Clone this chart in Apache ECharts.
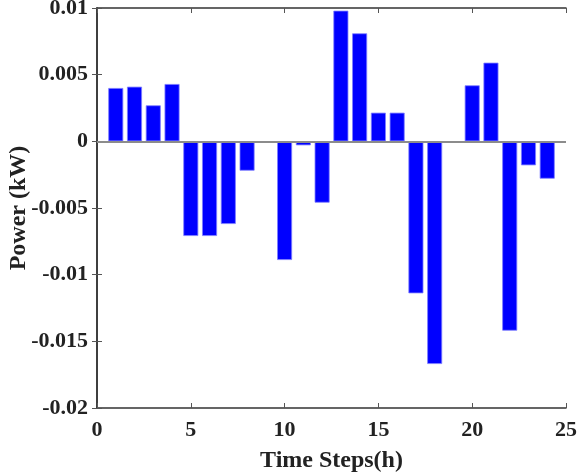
<!DOCTYPE html>
<html><head><meta charset="utf-8">
<script src="https://cdn.jsdelivr.net/npm/echarts@6/dist/echarts.min.js"></script>
<style>html,body{margin:0;padding:0;background:#fff}#c{width:578px;height:473px}</style>
</head><body><div id="c"></div>
<script>
const hours = [1,2,3,4,5,6,7,8,9,10,11,12,13,14,15,16,17,18,19,20,21,22,23,24];
const power = [0.0040,0.0041,0.0027,0.0043,-0.0071,-0.0071,-0.0062,-0.0022,-0.00003,-0.0089,-0.0003,-0.0046,
               0.0098,0.0081,0.00215,0.00215,-0.0114,-0.0167,-0.00003,0.0042,0.0059,-0.0142,-0.0018,-0.0028];
const yTickLabels = {"0.01":"0.01","0.005":"0.005","0":"0","-0.005":"-0.005","-0.01":"-0.01","-0.015":"-0.015","-0.02":"-0.02"};
const font = "Liberation Serif";
const chart = echarts.init(document.getElementById('c'));
const axisLine = {show:true,lineStyle:{color:'#333',width:1.5}};
const tick = {show:true,inside:true,length:5,lineStyle:{color:'#555',width:1}};
chart.setOption({
  animation:false,
  grid:{left:97,right:12,top:8,bottom:65,containLabel:false,outerBoundsMode:'none'},
  xAxis:[{
    type:'value',min:0,max:25,interval:5,
    axisLine:Object.assign({onZero:false},axisLine),axisTick:tick,splitLine:{show:false},
    axisLabel:{fontFamily:font,fontWeight:'bold',fontSize:22,color:'#222',margin:11},
    name:'Time Steps(h)',nameLocation:'middle',nameGap:41,nameMoveOverlap:false,
    nameTextStyle:{fontFamily:font,fontWeight:'bold',fontSize:24,color:'#222'}
  },{
    type:'value',position:'top',min:0,max:25,interval:5,
    axisLine:Object.assign({onZero:false},axisLine),axisTick:tick,axisLabel:{show:false},splitLine:{show:false}
  }],
  yAxis:[{
    type:'value',min:-0.02,max:0.01,interval:0.005,
    axisLine:axisLine,axisTick:tick,splitLine:{show:false},
    axisLabel:{fontFamily:font,fontWeight:'bold',fontSize:22,color:'#222',margin:9,
      formatter:v=>{const k=String(Math.round(v*1000)/1000);return yTickLabels[k]!==undefined?yTickLabels[k]:k;}},
    name:'Power (kW)',nameLocation:'middle',nameGap:66,nameMoveOverlap:false,
    nameTextStyle:{fontFamily:font,fontWeight:'bold',fontSize:24,color:'#222'}
  },{
    type:'value',position:'right',min:-0.02,max:0.01,interval:0.005,
    axisLine:axisLine,axisTick:tick,axisLabel:{show:false},splitLine:{show:false}
  }],
  series:[{
    type:'bar',
    data:hours.map((h,i)=>[h,power[i]]),
    barWidth:15,
    itemStyle:{color:'#0000ff',borderColor:'#7f7fff',borderWidth:0.8},
    markLine:{silent:true,symbol:'none',label:{show:false},
      lineStyle:{color:'#8c8c8c',type:'solid',width:2},data:[{yAxis:0}]}
  }]
});
</script></body></html>
